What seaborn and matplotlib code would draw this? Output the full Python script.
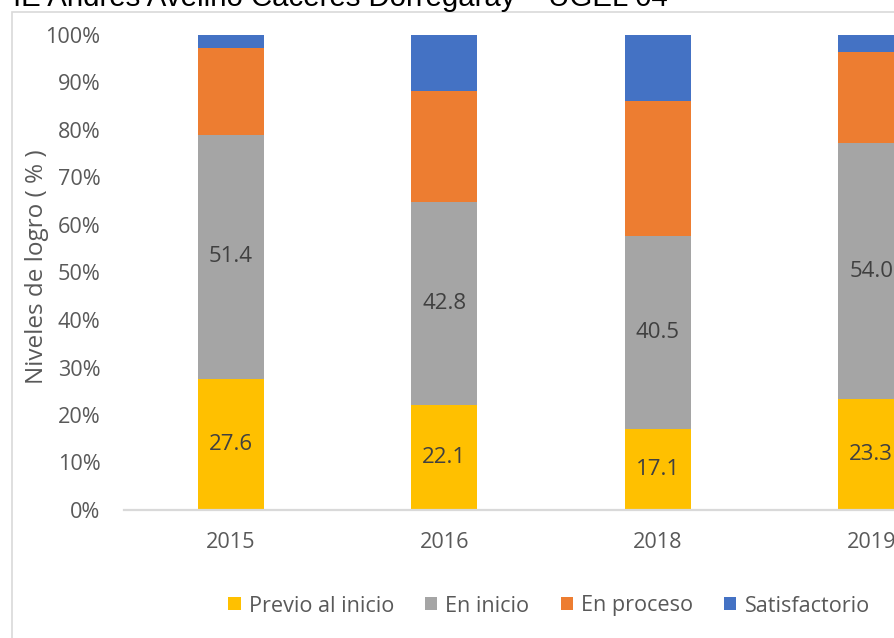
import numpy as np
import pandas as pd
import matplotlib
matplotlib.use("Agg")
import matplotlib.pyplot as plt
from matplotlib.patches import Patch, Rectangle
from matplotlib.ticker import PercentFormatter
import seaborn as sns

# ---- data ----
years = ["2015", "2016", "2018", "2019"]
previo = [27.6, 22.1, 17.1, 23.3]
inicio = [51.4, 42.8, 40.5, 54.0]
proceso = [18.2, 23.4, 28.5, 19.1]
satisf = [2.8, 11.7, 13.9, 3.6]
series_names = ["Previo al inicio", "En inicio", "En proceso", "Satisfactorio"]
colors = ["#FFC000", "#A5A5A5", "#ED7D31", "#4472C4"]
title = "IE Andrés Avelino Cáceres Dorregaray – UGEL 04"
ylabel = "Niveles de logro ( % )"

sns.set_style("white")
plt.rcParams["font.family"] = ["Open Sans", "DejaVu Sans"]

df = pd.DataFrame({"year": years, "previo": previo, "inicio": inicio,
                   "proceso": proceso, "satisf": satisf})
cum = df[["previo", "inicio", "proceso", "satisf"]].cumsum(axis=1)

fig = plt.figure(figsize=(8.95, 6.38), dpi=100)
W, H = 895, 638
ax = fig.add_axes([124 / W, 128 / H, 854 / W, 475 / H])

cols = ["previo", "inicio", "proceso", "satisf"]
for col, c in reversed(list(zip(cols, colors))):
    sns.barplot(x=df["year"], y=cum[col], color=c, width=0.31, ax=ax,
                linewidth=0, saturation=1, order=years)

ax.set_xlim(-0.5, 3.5)
ax.set_ylim(0, 100)
ax.set_yticks(np.arange(0, 101, 10))
ax.yaxis.set_major_formatter(PercentFormatter(decimals=0))
ax.set_xlabel("")
ax.set_ylabel(ylabel, fontsize=17.5, color="#595959", va="center")
ax.yaxis.set_label_coords((37 - 124) / 854, (510 - 267) / 475)
ax.tick_params(axis="both", length=0, labelsize=15.6, labelcolor="#595959")
ax.tick_params(axis="y", pad=17)
ax.tick_params(axis="x", pad=16)
for s in ["left", "right", "top"]:
    ax.spines[s].set_visible(False)
ax.spines["bottom"].set_color("#D9D9D9")
ax.spines["bottom"].set_linewidth(1.6)
ax.grid(False)

# data labels for first two series
for i in range(len(years)):
    ax.text(i, previo[i] / 2, f"{previo[i]:.1f}", ha="center", va="center",
            fontsize=16, color="#404040")
    ax.text(i, previo[i] + inicio[i] / 2, f"{inicio[i]:.1f}", ha="center",
            va="center", fontsize=16, color="#404040")

handles = [Patch(facecolor=c, edgecolor="none") for c in colors]
fig.legend(handles, series_names, loc="center", bbox_to_anchor=(549 / W, 1 - 606 / H),
           ncol=4, frameon=False, fontsize=15.6, labelcolor="#595959",
           handlelength=0.56, handleheight=0.56, handletextpad=0.37,
           columnspacing=1.45, borderaxespad=0, borderpad=0)

# chart-area border (cropped on right and bottom)
fig.patches.append(Rectangle((12 / W, -0.2), 1.5, 1.2 - 12 / H,
                             transform=fig.transFigure, fill=False,
                             edgecolor="#D9D9D9", linewidth=1.2))

fig.text(13 / W, 1 - 6 / H, title, ha="left", va="baseline", fontsize=21.2,
         family=["Liberation Sans", "DejaVu Sans"], color="black")

fig.savefig("out.png", dpi=100)
